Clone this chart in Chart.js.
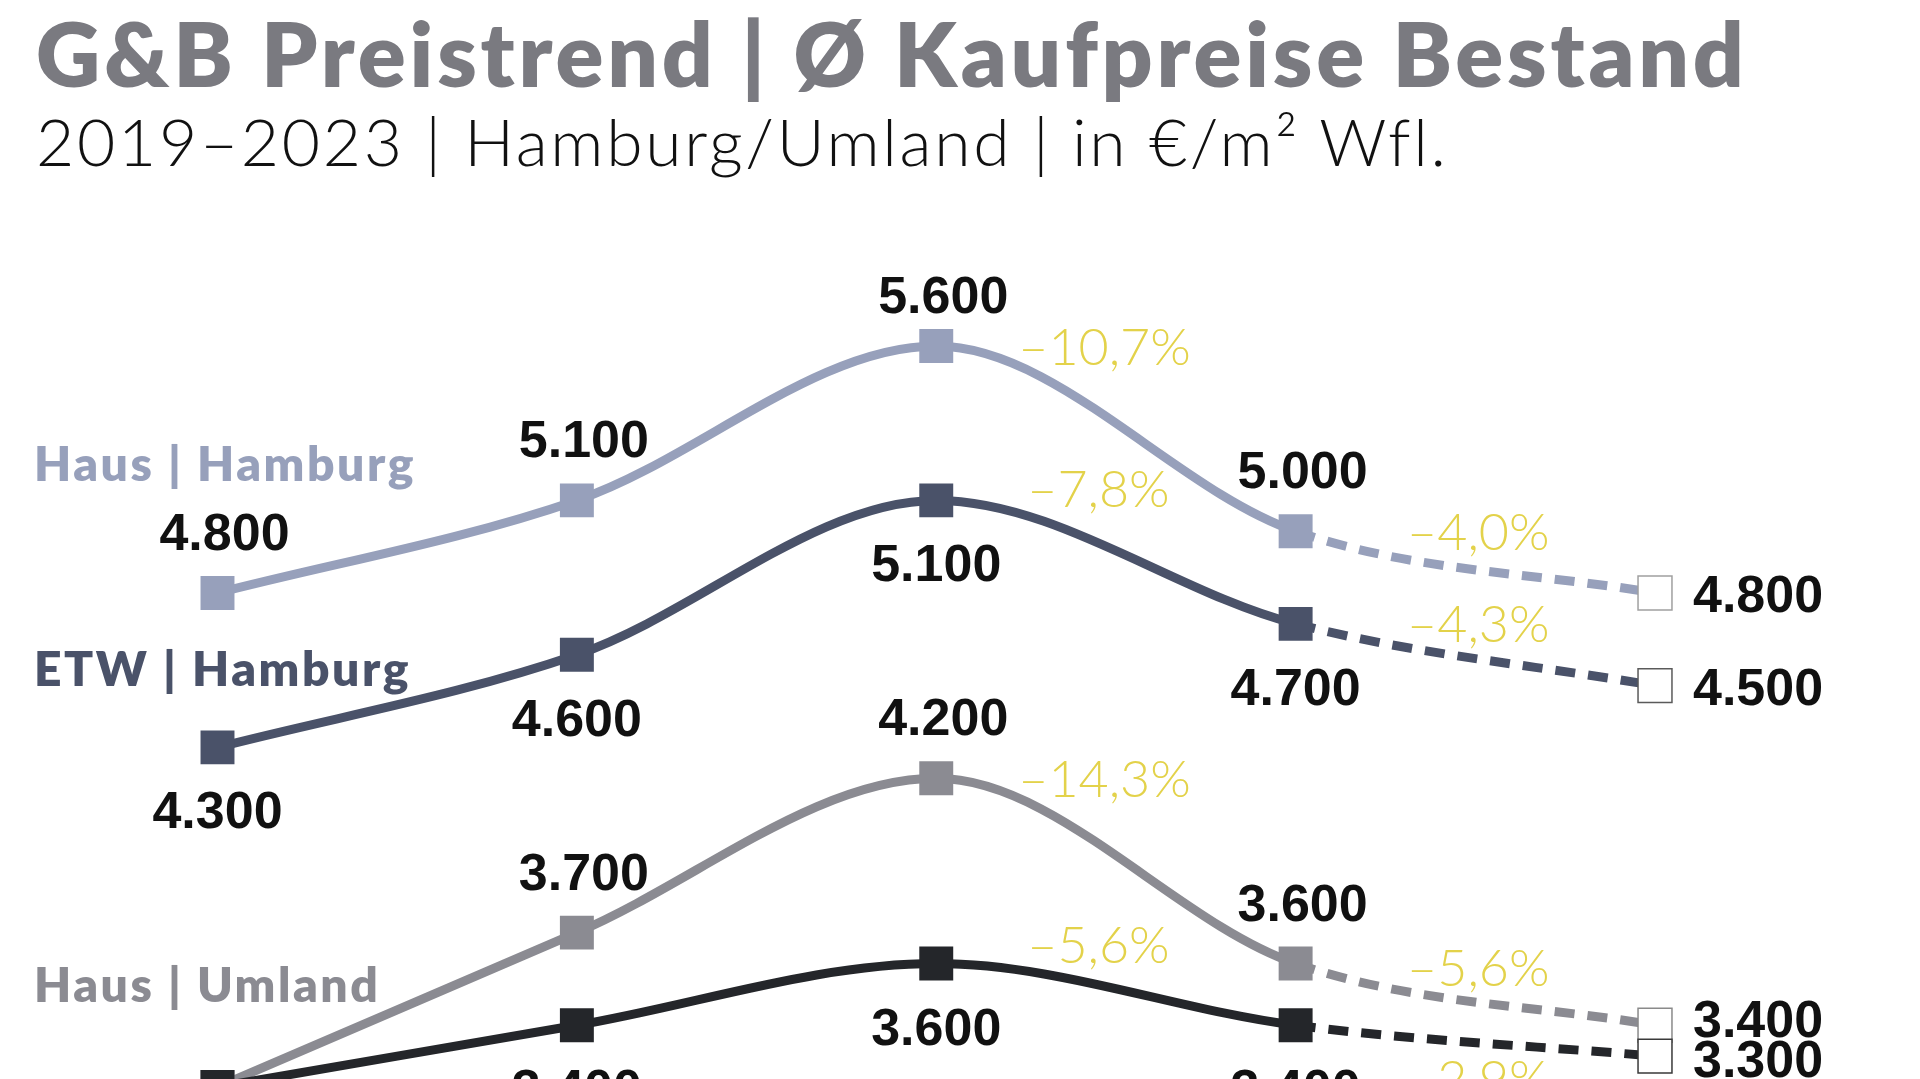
<!DOCTYPE html>
<html>
<head>
<meta charset="utf-8">
<script src="https://cdn.jsdelivr.net/npm/chart.js@4/dist/chart.umd.min.js"></script>
<style>
html,body{margin:0;padding:0;background:#fff;overflow:hidden;width:1920px;height:1079px}
#wrap{position:relative;width:1920px;height:1079px;overflow:hidden}
#c{position:absolute;left:0;top:0}
.t{position:absolute;white-space:nowrap;line-height:1}
#title{left:36px;top:8px;font-family:Lato,"Open Sans",sans-serif;font-weight:800;font-size:89px;color:#7a7a80}
#sub{left:36px;top:108px;font-family:Lato,"Open Sans",sans-serif;font-weight:300;font-size:66px;color:#111}
</style>
</head>
<body>
<div id="wrap">
<canvas id="c" width="1920" height="1079"></canvas>
<div class="t" id="title">G&amp;B Preistrend | Ø Kaufpreise Bestand</div>
<div class="t" id="sub">2019–2023 | Hamburg/Umland | in €/m² Wfl.</div>
</div>
<script>
// ---- data ----
const years = ['2019', '2020', '2021', '2022', '2023'];
const seriesNames = ['Haus | Hamburg', 'ETW | Hamburg', 'Haus | Umland', 'ETW | Umland'];
const hausHamburg = [4800, 5100, 5600, 5000, 4800];
const etwHamburg  = [4300, 4600, 5100, 4700, 4500];
const hausUmland  = [3200, 3700, 4200, 3600, 3400];
const etwUmland   = [3200, 3400, 3600, 3400, 3300];
const changePeak = ['–10,7%', '–7,8%', '–14,3%', '–5,6%'];   // 2021 -> 2022
const changeLast = ['–4,0%', '–4,3%', '–5,6%', '–2,9%'];     // 2022 -> 2023

// ---- styles ----
const colors = ['#97a0bb', '#4a5269', '#8b8b92', '#24262a'];
const endBorder = ['#a0a0a0', '#5a5a5a', '#8a8a8a', '#3a3a3a'];
const labelPos = [
  ['above','above','above','above','right'],
  ['below','below','below','below','right'],
  ['below','above','above','above','right'],
  ['below','below','below','below','right']
];
const labelGap = [
  [62, 62, 52, 62, 0],
  [62, 62, 62, 62, 0],
  [62, 62, 62, 62, 0],
  [62, 62, 62, 62, 0]
];
const endDy = [0, 0, -7, 2];
const peakDx = [82, 91, 82, 91];
const peakDy = [0, -12, 0, -20];
const lastDy = [-31, -32, -27, 37];
const nameBaseline = [481, 686, 1002, null];

function fmt(v){ return String(v).replace(/\B(?=(\d{3})+(?!\d))/g, '.'); }

const allSeries = [hausHamburg, etwHamburg, hausUmland, etwUmland];
const datasets = allSeries.map((d, i) => ({
  label: seriesNames[i],
  data: d,
  borderColor: colors[i],
  borderWidth: 9,
  cubicInterpolationMode: 'monotone',
  pointStyle: 'rect',
  pointRadius: 24,
  pointHoverRadius: 24,
  pointBackgroundColor: d.map((_, k) => k === d.length - 1 ? '#ffffff' : colors[i]),
  pointBorderColor: d.map((_, k) => k === d.length - 1 ? endBorder[i] : colors[i]),
  pointBorderWidth: d.map((_, k) => k === d.length - 1 ? 1.5 : 0),
  clip: false,
  order: 3 - i,
  segment: {
    borderDash: ctx => ctx.p1DataIndex === d.length - 1 ? [20, 13] : undefined
  }
}));

const labelPlugin = {
  id: 'valueLabels',
  afterDatasetsDraw(chart) {
    const ctx = chart.ctx;
    ctx.save();
    // series names
    ctx.textAlign = 'left';
    ctx.textBaseline = 'alphabetic';
    ctx.font = '800 48px Lato, "Open Sans", sans-serif';
    if ('letterSpacing' in ctx) ctx.letterSpacing = '2.5px';
    seriesNames.forEach((n, i) => {
      if (nameBaseline[i] == null) return;
      ctx.fillStyle = colors[i];
      ctx.fillText(n, 34, nameBaseline[i]);
    });
    if ('letterSpacing' in ctx) ctx.letterSpacing = '0px';
    chart.data.datasets.forEach((ds, di) => {
      const pts = chart.getDatasetMeta(di).data;
      ctx.fillStyle = '#111';
      ctx.font = 'bold 52px "Liberation Sans", Arial, sans-serif';
      pts.forEach((p, i) => {
        const txt = fmt(ds.data[i]);
        const pos = labelPos[di][i];
        const g = labelGap[di][i];
        if (pos === 'above') { ctx.textAlign = 'center'; ctx.fillText(txt, p.x + 7, p.y - g + 19); }
        else if (pos === 'below') { ctx.textAlign = 'center'; ctx.fillText(txt, p.x, p.y + g + 19); }
        else { ctx.textAlign = 'left'; ctx.fillText(txt, p.x + 38, p.y + 19 + endDy[di]); }
      });
      ctx.fillStyle = '#e3d24a';
      ctx.font = '300 52px Lato, "Open Sans", sans-serif';
      const p2 = pts[2], p3 = pts[3], p4 = pts[4];
      ctx.textAlign = 'left';
      ctx.fillText(changePeak[di], p2.x + peakDx[di], p2.y + peakDy[di] + 19);
      ctx.textAlign = 'center';
      ctx.fillText(changeLast[di], (p3.x + p4.x) / 2 + 3, (p3.y + p4.y) / 2 + lastDy[di] + 19);
    });
    ctx.restore();
  }
};

function fitWidth(id, target) {
  const el = document.getElementById(id);
  const n = el.textContent.length;
  const w = el.getBoundingClientRect().width;
  el.style.letterSpacing = ((target - w) / (n - 1)) + 'px';
}

function build() {
  fitWidth('title', 1708);
  fitWidth('sub', 1410);
  new Chart(document.getElementById('c'), {
    type: 'line',
    data: { labels: years, datasets },
    options: {
      responsive: false,
      maintainAspectRatio: false,
      animation: false,
      devicePixelRatio: 1,
      layout: { autoPadding: false, padding: { left: 217.5, right: 265, top: 222.5, bottom: 0 } },
      plugins: { legend: { display: false }, tooltip: { enabled: false }, title: { display: false } },
      scales: {
        x: { display: false, offset: false },
        y: { display: false, min: 3226, max: 6000 }
      }
    },
    plugins: [labelPlugin]
  });
}
if (document.fonts && document.fonts.ready) {
  document.fonts.load('800 48px Lato').then(() => document.fonts.load('300 47px Lato')).then(() => document.fonts.ready).then(build, build);
} else { build(); }
</script>
</body>
</html>
